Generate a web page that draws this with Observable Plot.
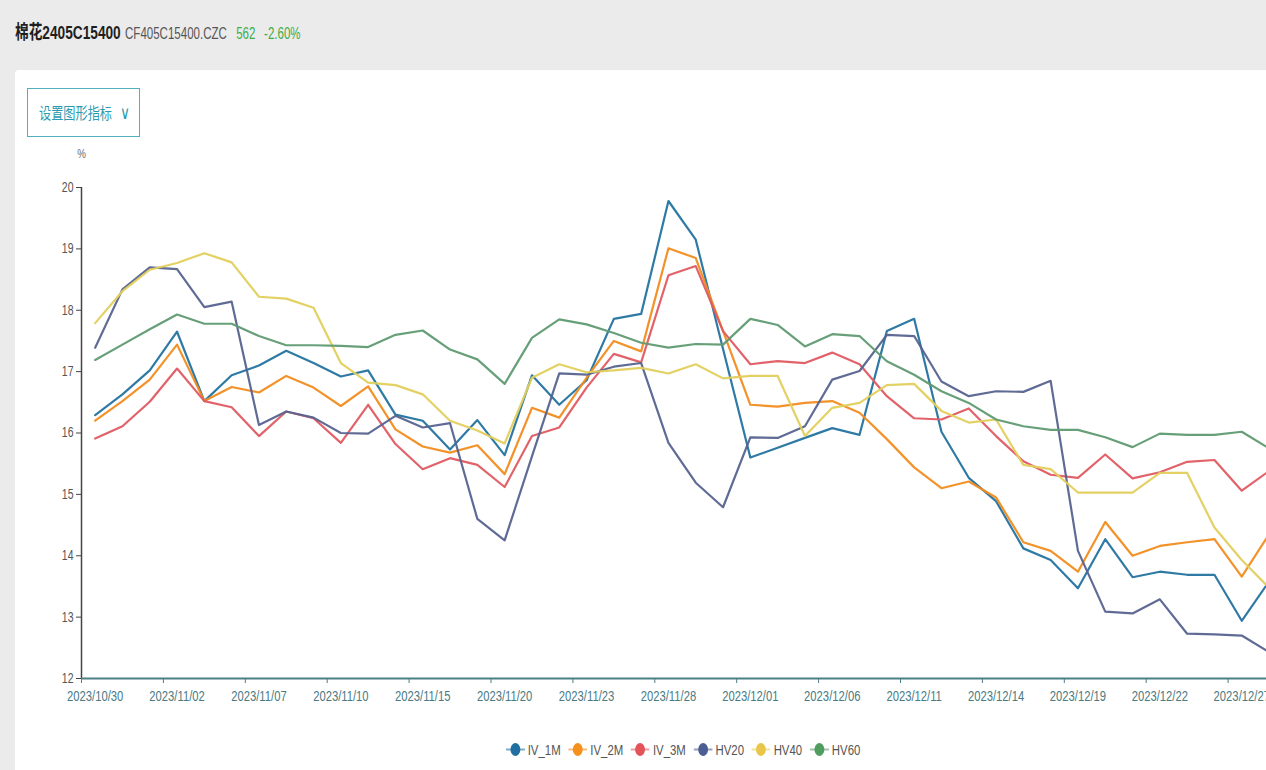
<!DOCTYPE html>
<html>
<head>
<meta charset="utf-8">
<script src="https://cdn.jsdelivr.net/npm/d3@7"></script>
<script src="https://cdn.jsdelivr.net/npm/@observablehq/plot@0.6"></script>
<style>
  html, body { margin: 0; padding: 0; width: 1266px; height: 770px; overflow: hidden; background: #ebebeb; }
  body { position: relative; font-family: "Liberation Sans", Arial, "Noto Sans CJK SC", sans-serif; }
  #hdr { position: absolute; left: 15px; top: 17px; white-space: nowrap; transform: scaleX(0.72); transform-origin: 0 50%; }
  #hdr .name { font-size: 19px; font-weight: bold; color: #1e1e1e; }
  #hdr .code { font-size: 16px; color: #555; margin-left: 6px; }
  #hdr .px { font-size: 16px; color: #3dad4a; margin-left: 13px; }
  #hdr .chg { font-size: 16px; color: #3dad4a; margin-left: 12px; }
  #card { position: absolute; left: 15px; top: 70px; width: 1300px; height: 760px; background: #fff; border-radius: 4px; }
  #btn { position: absolute; left: 27px; top: 88px; width: 111px; height: 47px; border: 1px solid #4fb0bf; }
  #btn .t { position: absolute; left: 11px; top: 0; line-height: 47px; white-space: nowrap; color: #2a9bb0; font-size: 16px;
            font-family: "Noto Sans CJK SC", sans-serif; transform: scaleX(0.76); transform-origin: 0 50%; }
  #btn .v { margin-left: 10px; font-family: "Liberation Sans", sans-serif; font-size: 18px; }
  #chart { position: absolute; left: 0; top: 140px; }
  #chart svg { max-width: none; }
  #legend { position: absolute; left: 0; top: 741px; width: 1366px; display: flex; justify-content: center; gap: 10px;
            transform: scaleX(0.76); transform-origin: 50% 50%; }
  #legend .item { display: flex; align-items: center; font-size: 15px; color: #555; }
  #legend svg { margin-right: 4px; }
</style>
</head>
<body>
<div id="card"></div>
<div id="hdr"><span class="name">棉花2405C15400</span><span class="code">CF405C15400.CZC</span><span class="px">562</span><span class="chg">-2.60%</span></div>
<div id="btn"><span class="t">设置图形指标<span class="v">∨</span></span></div>
<div id="chart"></div>
<div id="legend"></div>
<script>
const dates = ["2023/10/30","2023/10/31","2023/11/01","2023/11/02","2023/11/03","2023/11/06","2023/11/07","2023/11/08","2023/11/09","2023/11/10",
  "2023/11/13","2023/11/14","2023/11/15","2023/11/16","2023/11/17","2023/11/20","2023/11/21","2023/11/22","2023/11/23","2023/11/24",
  "2023/11/27","2023/11/28","2023/11/29","2023/11/30","2023/12/01","2023/12/04","2023/12/05","2023/12/06","2023/12/07","2023/12/08",
  "2023/12/11","2023/12/12","2023/12/13","2023/12/14","2023/12/15","2023/12/18","2023/12/19","2023/12/20","2023/12/21","2023/12/22",
  "2023/12/25","2023/12/26","2023/12/27","2023/12/28"];

const iv1m = [16.29,16.63,17.02,17.65,16.52,16.94,17.10,17.34,17.14,16.92,
  17.02,16.30,16.20,15.73,16.21,15.64,16.94,16.46,16.86,17.86,
  17.94,19.78,19.15,17.37,15.60,15.76,15.92,16.08,15.97,17.66,
  17.86,16.02,15.27,14.89,14.12,13.93,13.47,14.27,13.65,13.74,
  13.69,13.69,12.94,13.58];
const iv2m = [16.20,16.52,16.87,17.44,16.52,16.75,16.66,16.93,16.74,16.44,
  16.76,16.06,15.78,15.68,15.80,15.33,16.41,16.25,16.90,17.50,
  17.33,19.01,18.85,17.66,16.46,16.43,16.49,16.52,16.33,15.90,
  15.44,15.10,15.21,14.95,14.22,14.08,13.74,14.55,14.00,14.16,
  14.22,14.27,13.66,14.35];
const iv3m = [15.91,16.11,16.51,17.05,16.52,16.42,15.95,16.35,16.24,15.84,
  16.46,15.82,15.41,15.59,15.48,15.12,15.95,16.09,16.74,17.29,
  17.15,18.57,18.72,17.66,17.12,17.17,17.14,17.31,17.12,16.60,
  16.24,16.22,16.40,15.95,15.54,15.32,15.27,15.65,15.26,15.36,
  15.53,15.56,15.06,15.38];
const hv20 = [17.39,18.34,18.70,18.67,18.05,18.14,16.13,16.35,16.25,16.00,
  15.99,16.28,16.09,16.16,14.60,14.25,15.62,16.97,16.95,17.08,
  17.14,15.84,15.19,14.79,15.93,15.92,16.11,16.87,17.01,17.60,
  17.58,16.84,16.60,16.68,16.67,16.85,14.08,13.09,13.06,13.29,
  12.73,12.72,12.70,12.43];
const hv40 = [17.79,18.31,18.66,18.77,18.93,18.78,18.22,18.19,18.04,17.14,
  16.82,16.78,16.63,16.20,16.04,15.83,16.90,17.12,16.99,17.02,
  17.06,16.97,17.12,16.89,16.93,16.93,15.95,16.41,16.49,16.78,
  16.80,16.36,16.17,16.22,15.48,15.41,15.03,15.03,15.03,15.35,
  15.35,14.46,13.93,13.48];
const hv60 = [17.19,17.44,17.69,17.93,17.78,17.78,17.58,17.43,17.43,17.42,
  17.40,17.60,17.67,17.36,17.20,16.80,17.55,17.85,17.77,17.63,
  17.47,17.39,17.45,17.44,17.86,17.76,17.41,17.61,17.58,17.17,
  16.95,16.68,16.49,16.22,16.11,16.05,16.05,15.93,15.77,15.99,
  15.97,15.97,16.02,15.75];

const seriesNames = ["IV_1M","IV_2M","IV_3M","HV20","HV40","HV60"];
const seriesValues = [iv1m, iv2m, iv3m, hv20, hv40, hv60];
const seriesColors = ["#24739f","#f28c1e","#e05a62","#56638f","#e2cf5c","#5f9a72"];
const legendColors = ["#1f6fa3","#f5901c","#e4525a","#4c5d93","#e9c649","#4f9e60"];
const yTicks = [12,13,14,15,16,17,18,19,20];
const labelEvery = 3;

const rows = seriesNames.flatMap((s, k) => seriesValues[k].map((v, i) => ({i, v, s})));
const labelIdx = d3.range(0, dates.length, labelEvery);
const boundaryIdx = labelIdx.map(i => i - 0.5);

const W = 1310, mL = 81, mR = 28, bandW = 27.3;
const xMax = -0.5 + (W - mL - mR) / bandW;

const chart = Plot.plot({
  width: W,
  height: 578,
  marginLeft: mL,
  marginRight: mR,
  marginTop: 47,
  marginBottom: 40,
  style: {fontFamily: '"Liberation Sans", Arial, sans-serif', background: "transparent", maxWidth: "none"},
  x: {domain: [-0.5, xMax], axis: null},
  y: {domain: [12, 20], axis: null},
  color: {domain: seriesNames, range: seriesColors},
  marks: [
    Plot.axisY({ticks: yTicks, label: null, tickSize: 5, tickPadding: 3, tickFormat: d => String(d), fontSize: 14, color: "#555", stroke: "#444"}),
    Plot.ruleX([-0.5], {stroke: "#444", strokeWidth: 1.5}),
    Plot.line(rows, {x: "i", y: "v", z: "s", stroke: "s", strokeWidth: 2.2, strokeOpacity: 0.95}),
    Plot.ruleY([12], {stroke: "#4d7f86", strokeWidth: 2}),
    Plot.axisX({ticks: boundaryIdx, label: null, tickSize: 5, tickFormat: () => "", stroke: "#4d7f86"}),
    Plot.axisX({ticks: labelIdx, label: null, tickSize: 0, tickPadding: 12, tickFormat: i => dates[i], fontSize: 15, color: "#4a7a82"}),
    Plot.text(["%"], {frameAnchor: "top-left", dy: -39, text: d => d, fontSize: 13, fill: "#666", textAnchor: "middle"})
  ]
});
// narrow the tick-label glyphs horizontally, like the reference's condensed type
d3.select(chart).selectAll("g[aria-label$='tick label'] text, g[aria-label='text'] text").each(function() {
  const t = this.getAttribute("transform") || "";
  this.setAttribute("transform", t + " scale(0.75,1)");
});
document.getElementById("chart").appendChild(chart);

const legend = d3.select("#legend");
seriesNames.forEach((s, k) => {
  const item = legend.append("div").attr("class", "item");
  const svg = item.append("svg").attr("width", 25).attr("height", 15);
  svg.append("line").attr("x1", 0).attr("x2", 25).attr("y1", 7.5).attr("y2", 7.5)
     .attr("stroke", seriesColors[k]).attr("stroke-width", 2).attr("stroke-opacity", 0.6);
  svg.append("circle").attr("cx", 12.5).attr("cy", 7.5).attr("r", 6.5).attr("fill", legendColors[k]);
  item.append("span").text(s);
});
</script>
</body>
</html>
